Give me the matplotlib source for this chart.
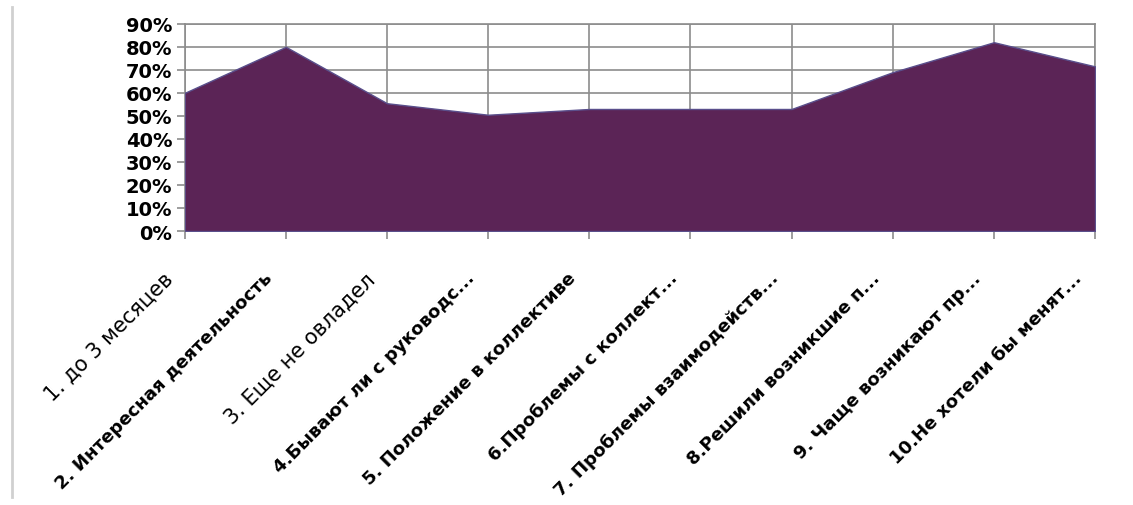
import matplotlib.pyplot as plt
from matplotlib.lines import Line2D
import numpy as np

# categories (as truncated in the original chart)
categories = [
    "1. до 3 месяцев",
    "2. Интересная деятельность",
    "3. Еще не овладел",
    "4.Бывают ли с руководс...",
    "5. Положение в коллективе",
    "6.Проблемы с коллект...",
    "7. Проблемы взаимодейств...",
    "8.Решили возникшие п...",
    "9. Чаще возникают пр...",
    "10.Не хотели бы менят...",
]
values = [0.60, 0.80, 0.555, 0.505, 0.53, 0.53, 0.53, 0.69, 0.82, 0.715]
yticks = [0.0, 0.1, 0.2, 0.3, 0.4, 0.5, 0.6, 0.7, 0.8, 0.9]
ytick_labels = ["0%", "10%", "20%", "30%", "40%", "50%", "60%", "70%", "80%", "90%"]
bold_labels = [False, True, False, True, True, True, True, True, True, True]

fig = plt.figure(figsize=(11.33, 5.06), dpi=100)
fig.patch.set_facecolor("white")
ax = fig.add_axes([0.163, 0.5415, 0.8035, 0.4095])

x = np.arange(len(values))
ax.fill_between(x, values, 0, facecolor="#5b2456", edgecolor="#5a4f8c", linewidth=1, zorder=3)

ax.set_xlim(0, len(values) - 1)
ax.set_ylim(0, 0.9)
ax.set_yticks(yticks)
ax.set_yticklabels(ytick_labels, fontsize=14, fontweight="bold")
ax.set_xticks(x)
ax.set_xticklabels([])

# category labels, rotated, ending a little left of / below each tick
for i, (txt, b) in enumerate(zip(categories, bold_labels)):
    ax.annotate(txt, xy=(i, 0), xycoords=("data", "axes fraction"),
                xytext=(-16, -27), textcoords="offset points",
                rotation=45, ha="right", va="top", rotation_mode="anchor",
                fontsize=13.1 if b else 15, fontweight="bold" if b else "normal",
                annotation_clip=False)

ax.grid(True, color="#8c8c8c", linewidth=1.2, zorder=0)
ax.set_axisbelow(True)
for s in ax.spines.values():
    s.set_color("#8c8c8c")
    s.set_linewidth(1.2)
ax.tick_params(axis="both", color="#8c8c8c", width=1.2, length=6, pad=3)

# frame line at left edge of the chart area
fig.add_artist(Line2D([12 / 1133, 12 / 1133], [8 / 506, 498 / 506], color="#d0d0d0", linewidth=2,
                      transform=fig.transFigure))

fig.savefig("out.png", dpi=100)
